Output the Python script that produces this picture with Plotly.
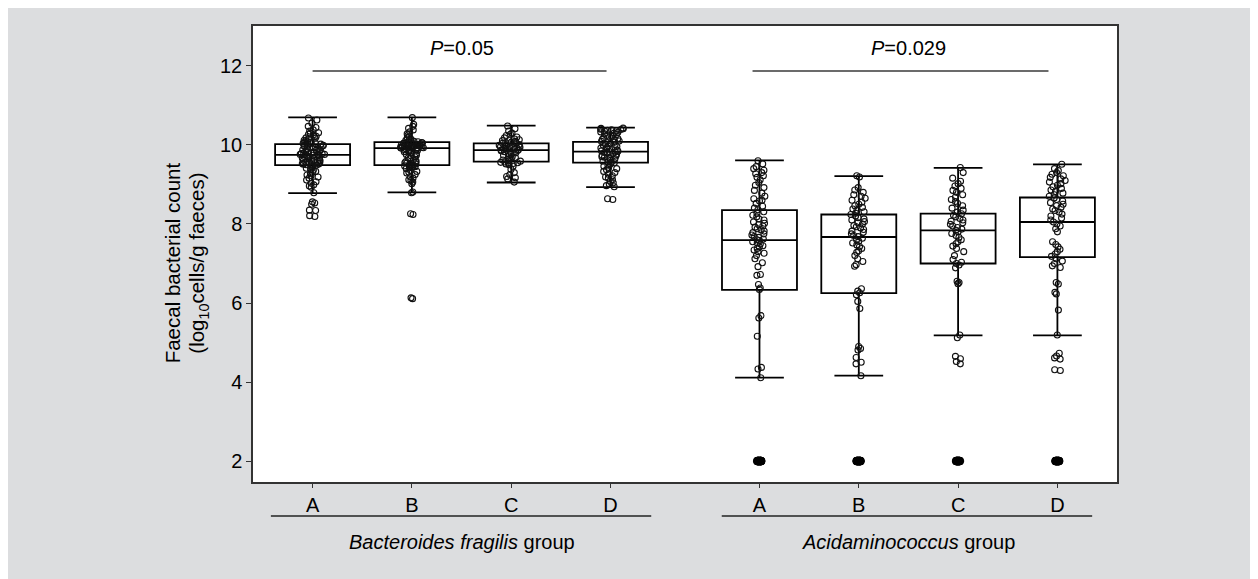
import plotly.graph_objects as go

# ---------------- data ----------------
categories = ["A", "B", "C", "D", "A", "B", "C", "D"]
positions = [0, 1, 2, 3, 4.5, 5.5, 6.5, 7.5]
group_names = ["<i>Bacteroides fragilis</i> group", "<i>Acidaminococcus</i> group"]
p_labels = ["<i>P</i>=0.05", "<i>P</i>=0.029"]
y_title_lines = ["Faecal bacterial count", "(log<sub>10</sub>cells/g faeces)"]

# box statistics
q1 = [9.49, 9.49, 9.58, 9.55, 6.33, 6.25, 7.00, 7.16]
median = [9.75, 9.92, 9.87, 9.83, 7.59, 7.67, 7.84, 8.05]
q3 = [10.02, 10.07, 10.04, 10.08, 8.35, 8.24, 8.26, 8.67]
lowerfence = [8.78, 8.80, 9.05, 8.93, 4.11, 4.16, 5.18, 5.18]
upperfence = [10.70, 10.70, 10.49, 10.44, 9.61, 9.21, 9.42, 9.51]

bf_A = [10.68, 10.63, 10.55, 10.47, 10.44, 10.38, 10.35, 10.31, 10.30, 10.27, 10.26, 10.22,
        10.21, 10.18, 10.17, 10.15, 10.12, 10.11, 10.08, 10.07, 10.06, 10.04, 10.03, 10.03,
        10.02, 10.01, 9.99, 9.98, 9.98, 9.96, 9.94, 9.93, 9.93, 9.91, 9.90, 9.88, 9.87, 9.87,
        9.85, 9.84, 9.82, 9.81, 9.80, 9.79, 9.78, 9.78, 9.77, 9.76, 9.76, 9.75, 9.74, 9.73,
        9.72, 9.71, 9.70, 9.68, 9.67, 9.66, 9.65, 9.63, 9.62, 9.61, 9.60, 9.59, 9.58, 9.57,
        9.56, 9.55, 9.54, 9.53, 9.52, 9.51, 9.50, 9.50, 9.49, 9.46, 9.43, 9.41, 9.38, 9.36,
        9.33, 9.31, 9.27, 9.24, 9.22, 9.19, 9.16, 9.11, 9.07, 9.03, 8.99, 8.96, 8.93, 8.79,
        8.56, 8.53, 8.50, 8.35, 8.34, 8.21, 8.19]
bf_B = [10.69, 10.52, 10.47, 10.42, 10.38, 10.33, 10.28, 10.25, 10.21, 10.18, 10.15, 10.12,
        10.10, 10.09, 10.08, 10.07, 10.06, 10.05, 10.05, 10.04, 10.03, 10.03, 10.02, 10.01,
        10.00, 9.99, 9.99, 9.98, 9.97, 9.97, 9.96, 9.96, 9.95, 9.95, 9.94, 9.94, 9.93, 9.93,
        9.92, 9.92, 9.91, 9.90, 9.89, 9.88, 9.87, 9.86, 9.85, 9.83, 9.82, 9.80, 9.78, 9.76,
        9.74, 9.72, 9.70, 9.67, 9.65, 9.62, 9.60, 9.58, 9.56, 9.55, 9.54, 9.53, 9.52, 9.50,
        9.49, 9.47, 9.46, 9.45, 9.45, 9.44, 9.42, 9.40, 9.36, 9.33, 9.31, 9.29, 9.25, 9.20,
        9.16, 9.12, 9.10, 9.06, 9.02, 8.81, 8.79, 8.26, 8.24, 6.13, 6.11]
bf_C = [10.48, 10.41, 10.35, 10.30, 10.27, 10.24, 10.20, 10.18, 10.15, 10.13, 10.11, 10.09,
        10.07, 10.06, 10.05, 10.04, 10.03, 10.01, 10.00, 9.99, 9.98, 9.97, 9.96, 9.95, 9.94,
        9.93, 9.92, 9.91, 9.90, 9.89, 9.88, 9.87, 9.86, 9.85, 9.83, 9.82, 9.80, 9.78, 9.76,
        9.74, 9.72, 9.70, 9.68, 9.66, 9.64, 9.62, 9.60, 9.59, 9.57, 9.56, 9.55, 9.54, 9.53,
        9.52, 9.50, 9.46, 9.38, 9.30, 9.25, 9.20, 9.17, 9.14, 9.06]
bf_D = [10.43, 10.42, 10.41, 10.40, 10.39, 10.38, 10.37, 10.36, 10.35, 10.33, 10.32, 10.30,
        10.28, 10.26, 10.24, 10.22, 10.20, 10.18, 10.16, 10.14, 10.12, 10.10, 10.09, 10.07,
        10.05, 10.03, 10.01, 9.99, 9.97, 9.96, 9.94, 9.92, 9.90, 9.89, 9.87, 9.85, 9.84,
        9.83, 9.82, 9.81, 9.80, 9.78, 9.76, 9.74, 9.72, 9.70, 9.69, 9.67, 9.65, 9.63, 9.61,
        9.59, 9.57, 9.56, 9.55, 9.52, 9.49, 9.46, 9.43, 9.40, 9.37, 9.33, 9.30, 9.26, 9.22,
        9.19, 9.16, 9.12, 9.08, 9.04, 9.01, 8.97, 8.94, 8.64, 8.62]
ac_A = [9.60, 9.52, 9.45, 9.40, 9.36, 9.30, 9.27, 9.22, 9.18, 9.12, 9.05, 8.98, 8.92, 8.85,
        8.78, 8.70, 8.64, 8.60, 8.58, 8.52, 8.45, 8.40, 8.36, 8.31, 8.27, 8.22, 8.18, 8.13,
        8.10, 8.05, 8.02, 7.98, 7.95, 7.92, 7.88, 7.85, 7.82, 7.78, 7.75, 7.72, 7.68, 7.66,
        7.62, 7.60, 7.58, 7.55, 7.52, 7.49, 7.45, 7.42, 7.38, 7.34, 7.30, 7.26, 7.20, 7.12,
        7.02, 6.92, 6.72, 6.70, 6.47, 6.38, 6.34, 5.68, 5.62, 5.16, 4.37, 4.33, 4.11]
ac_B = [9.22, 9.19, 8.92, 8.86, 8.80, 8.74, 8.70, 8.65, 8.60, 8.55, 8.50, 8.46, 8.42, 8.38,
        8.35, 8.31, 8.27, 8.24, 8.20, 8.16, 8.13, 8.10, 8.06, 8.03, 8.00, 7.96, 7.93, 7.90,
        7.86, 7.82, 7.79, 7.75, 7.71, 7.68, 7.64, 7.60, 7.56, 7.52, 7.47, 7.43, 7.38, 7.32,
        7.28, 7.20, 7.12, 7.05, 6.97, 6.93, 6.36, 6.30, 6.26, 6.21, 6.04, 5.86, 4.90, 4.85,
        4.81, 4.62, 4.50, 4.46, 4.16]
ac_C = [9.43, 9.30, 9.16, 9.08, 9.02, 8.96, 8.90, 8.85, 8.80, 8.74, 8.68, 8.62, 8.57, 8.52,
        8.46, 8.40, 8.35, 8.30, 8.26, 8.22, 8.18, 8.14, 8.10, 8.07, 8.03, 7.99, 7.95, 7.91,
        7.87, 7.84, 7.80, 7.76, 7.71, 7.66, 7.60, 7.55, 7.50, 7.44, 7.38, 7.30, 7.20, 7.10,
        7.03, 7.00, 6.96, 6.89, 6.55, 6.52, 6.49, 5.19, 5.12, 4.65, 4.59, 4.52, 4.46]
ac_D = [9.51, 9.40, 9.35, 9.30, 9.26, 9.22, 9.18, 9.14, 9.10, 9.06, 9.02, 8.98, 8.94, 8.90,
        8.86, 8.82, 8.78, 8.74, 8.70, 8.66, 8.62, 8.58, 8.54, 8.50, 8.46, 8.42, 8.38, 8.34,
        8.30, 8.25, 8.20, 8.15, 8.10, 8.05, 8.00, 7.95, 7.88, 7.80, 7.55, 7.48, 7.42, 7.36,
        7.30, 7.24, 7.18, 7.12, 7.06, 7.00, 6.94, 6.90, 6.52, 6.48, 6.27, 6.23, 5.82, 5.19,
        4.73, 4.66, 4.61, 4.58, 4.31, 4.29]
# samples below detection limit (plotted at 2.0)
below_limit = [2.0] * 14
below_limit_counts = [14, 14, 12, 12]

observations = [bf_A, bf_B, bf_C, bf_D, ac_A, ac_B, ac_C, ac_D]

# ---------------- figure ----------------
FONT = "Liberation Sans, Arial, sans-serif"
BOXW = 0.755

fig = go.Figure()

fig.add_trace(go.Box(
    x=positions, q1=q1, median=median, q3=q3,
    lowerfence=lowerfence, upperfence=upperfence,
    boxpoints=False, width=BOXW, whiskerwidth=0.65,
    fillcolor="white", line=dict(color="black", width=1.8),
    showlegend=False, hoverinfo="skip",
))

marker_style = dict(symbol="circle-open", size=6, color="#111111", line=dict(width=1.1))

for i, vals in enumerate(observations):
    jit = 0.34 if i < 4 else 0.22
    fig.add_trace(go.Box(
        x=[positions[i]] * len(vals), y=vals,
        boxpoints="all", jitter=jit, pointpos=0, width=BOXW,
        fillcolor="rgba(0,0,0,0)", line=dict(color="rgba(0,0,0,0)", width=0),
        marker=marker_style, showlegend=False, hoverinfo="skip",
    ))

for j in range(4):
    n = below_limit_counts[j]
    fig.add_trace(go.Box(
        x=[positions[4 + j]] * n, y=below_limit[:n],
        boxpoints="all", jitter=0.06, pointpos=0, width=BOXW,
        fillcolor="rgba(0,0,0,0)", line=dict(color="rgba(0,0,0,0)", width=0),
        marker=dict(symbol="circle", size=8, color="#000000",
                    line=dict(width=0.6, color="#000000")),
        showlegend=False, hoverinfo="skip",
    ))

# significance bars
sig_bars = [(0.0, 2.96), (4.43, 7.41)]
for (x0, x1) in sig_bars:
    fig.add_shape(type="line", xref="x", yref="y", x0=x0, x1=x1, y0=11.87, y1=11.87,
                  line=dict(color="#3a3a3a", width=1.5))
for k, txt in enumerate(p_labels):
    fig.add_annotation(x=[1.5, 6.0][k], y=12.46, xref="x", yref="y", text=txt,
                       showarrow=False, font=dict(family=FONT, size=20, color="black"),
                       xanchor="center", yanchor="middle")

# group underlines and labels
grp_lines = [(-0.42, 3.41), (4.12, 7.85)]
for (x0, x1) in grp_lines:
    fig.add_shape(type="line", xref="x", yref="paper", x0=x0, x1=x1, y0=-0.0746, y1=-0.0746,
                  line=dict(color="#222222", width=1.5))
for k, txt in enumerate(group_names):
    fig.add_annotation(x=[1.5, 6.0][k], y=-0.131, xref="x", yref="paper", text=txt,
                       showarrow=False, font=dict(family=FONT, size=20, color="black"),
                       xanchor="center", yanchor="middle")

# y-axis title (two rotated lines)
for k, txt in enumerate(y_title_lines):
    fig.add_annotation(x=[-0.0935, -0.0630][k], y=0.48, xref="paper", yref="paper",
                       text=txt, textangle=-90, showarrow=False,
                       font=dict(family=FONT, size=20.5, color="black"),
                       xanchor="center", yanchor="middle")

fig.update_layout(
    width=1250, height=571,
    margin=dict(l=245, r=141, t=18, b=97),
    paper_bgcolor="#dcdddf", plot_bgcolor="white",
    boxmode="overlay",
    font=dict(family=FONT, size=20, color="black"),
    showlegend=False,
)
fig.update_xaxes(
    range=[-0.6, 8.1], tickvals=positions, ticktext=categories,
    ticks="outside", ticklen=4, tickwidth=1.2, tickcolor="#333",
    showline=True, linecolor="#333", linewidth=1.5, mirror=True,
    showgrid=False, zeroline=False, tickfont=dict(family=FONT, size=20),
)
fig.update_yaxes(
    range=[1.47, 13.01], tickvals=[2, 4, 6, 8, 10, 12],
    ticks="outside", ticklen=5, tickwidth=1.2, tickcolor="#333",
    showline=True, linecolor="#333", linewidth=1.5, mirror=True,
    showgrid=False, zeroline=False, tickfont=dict(family=FONT, size=20),
)

fig.write_html("out.html")
